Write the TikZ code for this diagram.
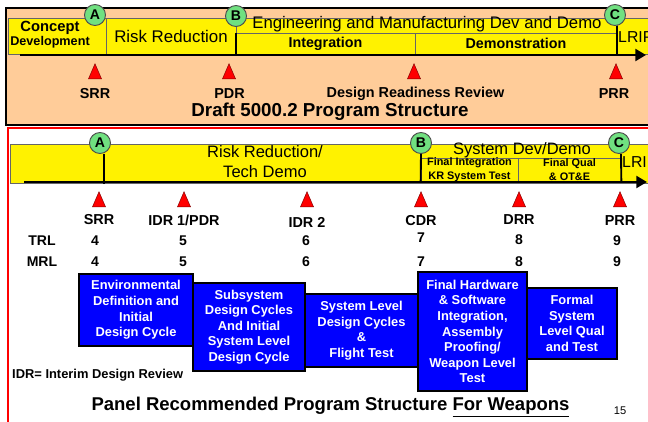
\documentclass[tikz,border=0pt]{standalone}
\usepackage{fontspec}
\setmainfont{Liberation Sans}
\usepackage{xcolor}
\usetikzlibrary{shapes,arrows.meta,positioning}
\definecolor{peach}{HTML}{FFCC99}
\definecolor{gategreen}{HTML}{70E080}
\definecolor{phaseblue}{HTML}{0000FF}
\newdimen\px \px=0.03cm

\begin{document}
\begin{tikzpicture}[x=0.03cm,y=-0.03cm]
\tikzstyle{band}=[fill=yellow, draw=black!60, line width=0.6pt, inner sep=0pt]
\tikzstyle{gate}=[circle, fill=gategreen, draw=black!70, line width=0.8pt, minimum size=21\px, inner sep=0pt, font=\fontsize{12}{12}\selectfont\bfseries]
\tikzstyle{gateline}=[line width=1.6pt]
\tikzstyle{timeline}=[line width=2.5pt, -{Triangle[length=9pt, width=10pt]}]
\tikzstyle{review}=[isosceles triangle, isosceles triangle stretches, shape border rotate=90, minimum width=13\px, minimum height=15\px, inner sep=0pt, fill=red, draw=red!50!black, line width=0.4pt, anchor=south]
\tikzstyle{revlabel}=[font=\fontsize{12.3}{13}\selectfont\bfseries, inner sep=0pt]
\tikzstyle{level}=[font=\fontsize{12}{13}\selectfont\bfseries, inner sep=0pt]
\tikzstyle{phase}=[draw=black, line width=1.7pt, fill=phaseblue, text=white, align=center, inner sep=0pt, font=\fontsize{11}{13.3}\selectfont\bfseries]
\useasboundingbox (0,0) rectangle (648,421);
\clip (0,0) rectangle (648,421);

% draft 5000.2 panel
\draw[fill=peach, line width=2pt] (6,8) rectangle (700,125);
\node[band, minimum width=98\px, minimum height=36\px] (cdbox) at (57,36) {};
\node[align=center, inner sep=0pt] (cdtext) at (50,35) {\fontsize{12.6}{13}\selectfont\bfseries Concept\\\fontsize{10.8}{13.5}\selectfont\bfseries Development};
\node[band, minimum width=130\px, minimum height=36\px, font=\fontsize{14.4}{15}\selectfont] (rrbox) at (171,36) {Risk Reduction};
\node[band, minimum width=381\px, minimum height=15\px] (emdbox) at (426.5,25.5) {};
\node[inner sep=0pt, font=\fontsize{14.3}{15}\selectfont] (emdtext) at (427,24.5) {Engineering and Manufacturing Dev and Demo};
\node[band, minimum width=179\px, minimum height=21\px, font=\fontsize{12.2}{13}\selectfont\bfseries] (intbox) at (325.5,43.5) {Integration};
\node[band, minimum width=202\px, minimum height=21\px, font=\fontsize{12.2}{13}\selectfont\bfseries] (demobox) at (516,43.5) {Demonstration};
\node[band, minimum width=43\px, minimum height=36\px] (lripbox) at (638.5,36) {};
\node[anchor=west, inner sep=0pt, font=\fontsize{13.5}{14}\selectfont] (lriptop) at (618,37) {LRIP};
\coordinate (axisA0) at (20,55);
\coordinate (axisA1) at (646,55);
\node[gate] (gateAt) at (95,15) {A};
\node[gate] (gateBt) at (236,16) {B};
\node[gate] (gateCt) at (615,15) {C};
\draw[gateline] (intbox.north west) -- (intbox.south west);
\draw[gateline] (gateCt.south) ++(2\px,0) -- (617,55);
\draw[timeline] (axisA0) -- (axisA1);
\node[review] (srrA) at (95,79) {};
\node[review] (pdrA) at (229,79) {};
\node[review] (drrA) at (414,79) {};
\node[review] (prrA) at (616,79) {};
\node[revlabel] (srrAl) at (95,94) {SRR};
\node[revlabel] (pdrAl) at (229.5,94) {PDR};
\node[revlabel] (drrAl) at (415.5,94) {Design Readiness Review};
\node[revlabel] (prrAl) at (614,94) {PRR};
\node[font=\fontsize{16}{17}\selectfont\bfseries, inner sep=0pt] (drafttitle) at (330,112) {Draft 5000.2 Program Structure};

% recommended panel
\draw[red, line width=1.8pt] (8,128) rectangle (700,460);
\node[band, minimum width=640\px, minimum height=39\px] (bandB) at (330,163.5) {};
\node[align=center, inner sep=0pt, font=\fontsize{14.1}{17}\selectfont] (rrtd) at (265,162) {Risk Reduction/\\Tech Demo};
\node[inner sep=0pt, font=\fontsize{14.1}{15}\selectfont] (sysdd) at (522,150) {System Dev/Demo};
\node[band, fill=none, minimum width=97\px, minimum height=24\px, align=center, font=\fontsize{9.3}{12}\selectfont\bfseries] (fibox) at (469.5,170) {Final Integration\\KR System Test};
\node[band, fill=none, minimum width=103\px, minimum height=24\px, align=center, font=\fontsize{9.3}{12}\selectfont\bfseries] (fqbox) at (569.5,170) {Final Qual\\\& OT\&E};
\node[anchor=west, inner sep=0pt, font=\fontsize{13.5}{14}\selectfont] (lripbot) at (622,162) {LRIP};
\coordinate (axisB0) at (24,182);
\coordinate (axisB1) at (647,182);
\node[gate] (gateAb) at (100,143) {A};
\node[gate] (gateBb) at (421,143) {B};
\node[gate] (gateCb) at (619,143) {C};
\draw[gateline] ([xshift=4\px]gateAb.south) -- ++(0,30);
\draw[gateline] (gateBb.south) -- (fibox.south west);
\draw[gateline] ([xshift=2\px]gateCb.south) -- (fqbox.south east);
\draw[timeline] (axisB0) -- (axisB1);
\node[review] (srrB) at (99,207) {};
\node[review] (idr1B) at (184,207) {};
\node[review] (idr2B) at (307,207) {};
\node[review] (cdrB) at (421,207) {};
\node[review] (drrB) at (519,207) {};
\node[review] (prrB) at (620,207) {};
\node[revlabel] (srrBl) at (99,220) {SRR};
\node[revlabel] (idr1Bl) at (184,220) {IDR 1/PDR};
\node[revlabel] (idr2Bl) at (307,222) {IDR 2};
\node[revlabel] (cdrBl) at (421,221) {CDR};
\node[revlabel] (drrBl) at (519,220) {DRR};
\node[revlabel] (prrBl) at (620,221) {PRR};
\node[level] (trl) at (42,241) {TRL};
\node[level] (mrl) at (42,262) {MRL};
\foreach \x/\t/\m/\ty in {95/4/4/241, 183/5/5/241, 306/6/6/241, 421/7/7/238, 519/8/8/240, 617/9/9/241}
  \node[level] (trl\t) at (\x,\ty) {\t}
  node[level] (mrl\m) at (\x,262) {\m};
\node[phase, minimum width=114\px, minimum height=72\px] (envdef) at (136,310) {Environmental\\Definition and\\Initial\\Design Cycle};
\node[phase, minimum width=112\px, minimum height=88\px] (subsys) at (249,327) {Subsystem\\Design Cycles\\And Initial\\System Level\\Design Cycle};
\node[phase, minimum width=113\px, minimum height=73\px] (syslevel) at (361.5,330.5) {System Level\\Design Cycles\\\&\\Flight Test};
\node[phase, minimum width=109\px, minimum height=119\px] (finalhw) at (472.5,331.5) {Final Hardware\\\& Software\\Integration,\\Assembly\\Proofing/\\Weapon Level\\Test};
\node[phase, minimum width=90\px, minimum height=71\px] (formal) at (572,323.5) {Formal\\System\\Level Qual\\and Test};
\node[anchor=west, inner sep=0pt, font=\fontsize{11}{12}\selectfont\bfseries] (idrnote) at (12,375) {IDR= Interim Design Review};
\node[inner sep=0pt, font=\fontsize{15.8}{17}\selectfont\bfseries] (paneltitle) at (330.5,407) {Panel Recommended Program Structure \underline{For Weapons}};
\node[inner sep=0pt, font=\fontsize{9.5}{11}\selectfont] (pagenum) at (620,411) {15};
\end{tikzpicture}
\end{document}
